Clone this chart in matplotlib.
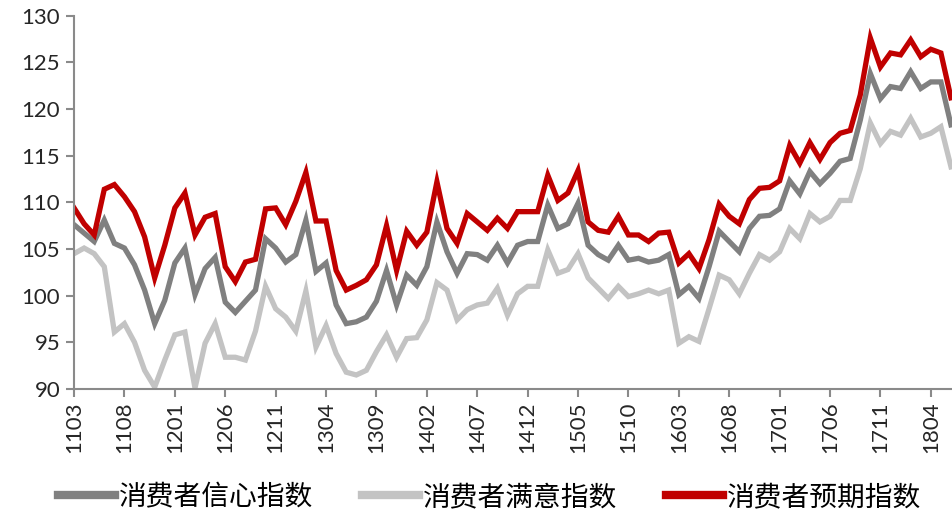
import matplotlib
matplotlib.use('Agg')
import matplotlib.pyplot as plt

plt.rcParams['font.family'] = ['Lato', 'DejaVu Sans']

# 月份 1103 ~ 1806
months = []
for y in range(11, 19):
    for m in range(1, 13):
        if (y == 11 and m < 3) or (y == 18 and m > 6):
            continue
        months.append('{:02d}{:02d}'.format(y, m))

# 消费者信心指数
confidence = [107.6, 106.7, 105.8, 108.1, 105.6, 105.1, 103.3, 100.6, 97.0, 99.5,
              103.5, 105.1, 100.1, 102.9, 104.1, 99.3, 98.2, 99.4, 100.6, 106.1,
              105.1, 103.6, 104.4, 108.1, 102.6, 103.5, 99.0, 97.0, 97.2, 97.7,
              99.4, 102.7, 99.0, 102.2, 101.1, 103.1, 107.9, 104.7, 102.4, 104.5,
              104.4, 103.8, 105.4, 103.5, 105.4, 105.8, 105.8, 109.7, 107.2, 107.7,
              109.9, 105.4, 104.4, 103.8, 105.4, 103.8, 104.0, 103.6, 103.8, 104.4,
              100.1, 101.0, 99.7, 103.1, 106.9, 105.8, 104.7, 107.2, 108.5, 108.6,
              109.3, 112.3, 110.9, 113.3, 112.0, 113.1, 114.4, 114.7, 118.8, 123.8,
              121.1, 122.4, 122.2, 124.0, 122.2, 122.9, 122.9, 118.3]
# 消费者满意指数
satisfaction = [104.5, 105.1, 104.5, 103.1, 96.1, 97.0, 95.0, 92.0, 90.2, 93.1,
                95.8, 96.1, 90.1, 94.9, 97.0, 93.4, 93.4, 93.1, 96.2, 101.0,
                98.6, 97.7, 96.2, 100.5, 94.5, 96.8, 93.8, 91.8, 91.5, 92.0,
                94.0, 95.8, 93.4, 95.4, 95.5, 97.4, 101.4, 100.6, 97.4, 98.5,
                99.0, 99.2, 100.8, 97.9, 100.2, 101.0, 101.0, 104.9, 102.4, 102.8,
                104.5, 101.9, 100.8, 99.7, 101.0, 99.9, 100.2, 100.6, 100.2, 100.6,
                94.9, 95.6, 95.1, 98.6, 102.2, 101.7, 100.2, 102.4, 104.4, 103.8,
                104.7, 107.2, 106.1, 108.8, 107.9, 108.5, 110.2, 110.2, 113.6, 118.5,
                116.3, 117.6, 117.2, 119.0, 117.0, 117.4, 118.1, 113.8]
# 消费者预期指数
expectation = [109.4, 107.7, 106.5, 111.4, 111.9, 110.6, 109.0, 106.3, 101.9, 105.4,
               109.4, 111.0, 106.5, 108.4, 108.8, 103.1, 101.5, 103.6, 103.9, 109.3,
               109.4, 107.6, 110.1, 113.2, 108.0, 108.0, 102.7, 100.6, 101.1, 101.7,
               103.3, 107.5, 102.7, 106.9, 105.4, 106.8, 112.2, 107.2, 105.6, 108.8,
               107.9, 107.0, 108.3, 107.2, 109.0, 109.0, 109.0, 112.9, 110.2, 111.0,
               113.4, 107.9, 107.0, 106.8, 108.5, 106.5, 106.5, 105.8, 106.7, 106.8,
               103.5, 104.5, 102.9, 106.0, 109.8, 108.5, 107.7, 110.3, 111.5, 111.6,
               112.3, 116.1, 114.2, 116.4, 114.6, 116.4, 117.4, 117.7, 121.5, 127.6,
               124.5, 126.0, 125.8, 127.4, 125.6, 126.4, 126.0, 121.2]

fig = plt.figure(figsize=(9.53, 5.15), dpi=100)
ax = fig.add_axes([0.0777, 0.2447, 0.9223, 0.7249])

x = range(len(months))
ax.plot(x, confidence, color='#808080', lw=3.8, label='消费者信心指数', solid_joinstyle='miter')
ax.plot(x, satisfaction, color='#C3C3C3', lw=3.8, label='消费者满意指数', solid_joinstyle='miter')
ax.plot(x, expectation, color='#C00000', lw=3.8, label='消费者预期指数', solid_joinstyle='miter')

ax.set_ylim(90, 130)
ax.set_yticks(range(90, 131, 5))
ax.set_xlim(0, 87.2)
ax.set_xticks(list(x)[::5])
ax.set_xticklabels(months[::5], rotation=90)

for s in ['top', 'right']:
    ax.spines[s].set_visible(False)
for s in ['left', 'bottom']:
    ax.spines[s].set_color('#8A8A8A')
    ax.spines[s].set_linewidth(1.5)
ax.tick_params(axis='both', colors='#8A8A8A', width=1.5, length=6, labelsize=16,
               labelcolor='#262626')
ax.tick_params(axis='y', pad=4)
ax.tick_params(axis='x', pad=3)

leg = fig.legend(loc='center', bbox_to_anchor=(0.514, 0.035), ncol=3, frameon=False,
                 prop={'family': ['Noto Sans CJK SC'], 'size': 20},
                 handlelength=2.05, handletextpad=0.15, columnspacing=1.75)
for line in leg.get_lines():
    line.set_linewidth(6)

fig.savefig('out.png', dpi=100)
